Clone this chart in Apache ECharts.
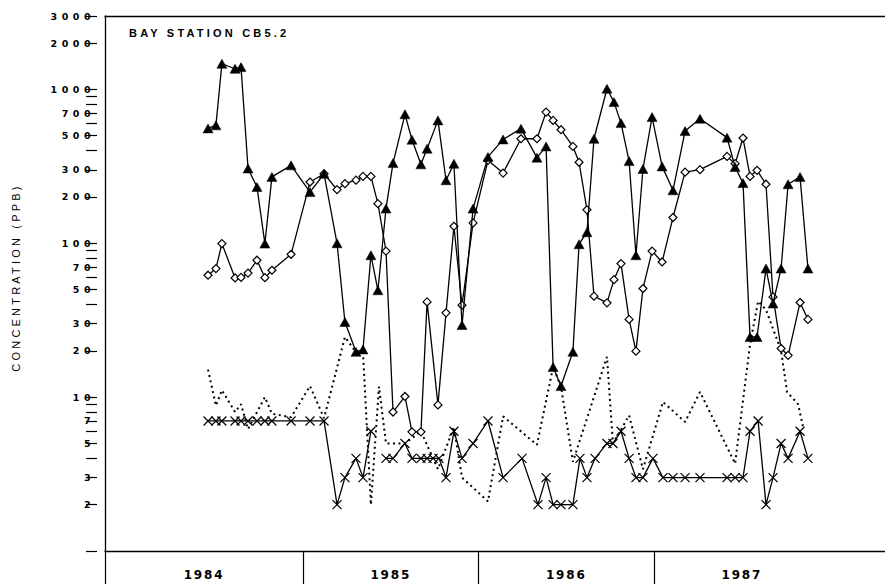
<!DOCTYPE html>
<html>
<head>
<meta charset="utf-8">
<script src="https://cdn.jsdelivr.net/npm/echarts@6/dist/echarts.min.js"></script>
<style>
  html, body { margin: 0; padding: 0; background: #fff; }
  #chart { width: 885px; height: 584px; }
  /* wide, typewriter-like spacing of the printed labels */
  #chart text[style*="DejaVu"], #chart text[font-family*="DejaVu"] { letter-spacing: 4.5px; }
  #chart text[style*="DejaVu"][style*="12px"], #chart text[font-family*="DejaVu"][font-size*="12"] { letter-spacing: 1.8px; }
  #chart text[style*="Liberation"], #chart text[font-family*="Liberation"] { letter-spacing: 3.2px; }
</style>
</head>
<body>
<div id="chart"></div>
<script>
// Sampling dates (decimal years) shared by the triangle and diamond records
const sampleYears = [
  1984.459, 1984.504, 1984.538, 1984.613, 1984.647, 1984.687, 1984.738, 1984.783, 1984.823, 1984.932,
  1985.040, 1985.120, 1985.194, 1985.239, 1985.302, 1985.342, 1985.387, 1985.427, 1985.473, 1985.513,
  1985.581, 1985.621, 1985.672, 1985.707, 1985.769, 1985.815, 1985.860, 1985.906, 1985.969, 1986.054,
  1986.140, 1986.242, 1986.333, 1986.385, 1986.425, 1986.470, 1986.538, 1986.573, 1986.618, 1986.658,
  1986.732, 1986.772, 1986.812, 1986.858, 1986.897, 1986.937, 1986.989, 1987.046, 1987.108, 1987.177,
  1987.262, 1987.416, 1987.462, 1987.507, 1987.547, 1987.587, 1987.638, 1987.678, 1987.724, 1987.764,
  1987.832, 1987.877
];

// Filled triangles (ppb)
const triangleValues = [
  558, 584, 1468, 1362, 1396, 306, 232, 99.5, 270, 321,
  215, 283, 100, 30.8, 19.7, 20.4, 83.6, 49.5, 168, 332,
  689, 471, 326, 412, 629, 257, 329, 29.4, 168, 364,
  473, 556, 360, 426, 15.7, 11.8, 19.7, 98.6, 118, 478,
  1010, 827, 604, 342, 83.6, 304, 661, 316, 221, 536,
  645, 486, 313, 246, 24.6, 24.6, 68.5, 40.6, 68.5, 242,
  270, 68.5
];

// Open diamonds (ppb)
const diamondValues = [
  62, 68.5, 99.5, 59.5, 60, 64, 77.6, 59.8, 66.8, 84.8,
  250, 283, 223, 244, 257, 272, 272, 181, 89, 8.0,
  10.1, 5.95, 5.95, 41.6, 8.9, 35.3, 129, 39.6, 135.6, 346,
  286, 478, 478, 712, 629, 547, 426, 336, 165, 45.3,
  41, 58, 73.8, 32, 19.9, 50.8, 89, 75.6, 147, 290,
  301, 367, 329, 483, 272, 298, 242, 44.8, 20.7, 18.7,
  41.2, 32
];

// Crosses (ppb); null marks a missing sample
const crossYears = [
  1984.459, 1984.504, 1984.538, 1984.613, 1984.647, 1984.687, 1984.738, 1984.783, 1984.823, 1984.932,
  1985.040, 1985.120, 1985.194, 1985.239, 1985.302, 1985.342, 1985.387, 1985.427, 1985.473, 1985.513,
  1985.581, 1985.621, 1985.672, 1985.707, 1985.741, 1985.775, 1985.815, 1985.860, 1985.906, 1985.969,
  1986.054, 1986.140, 1986.248, 1986.339, 1986.385, 1986.425, 1986.470, 1986.538, 1986.578, 1986.618,
  1986.664, 1986.732, 1986.766, 1986.812, 1986.858, 1986.897, 1986.937, 1986.994, 1987.051, 1987.108,
  1987.177, 1987.262, 1987.416, 1987.462, 1987.507, 1987.547, 1987.593, 1987.638, 1987.678, 1987.724,
  1987.764, 1987.832, 1987.877
];
const crossValues = [
  7, 7, 7, 7, 7, 7, 7, 7, 7, 7,
  7, 7, 2, 3, 4, 3, 6, null, 4, 4,
  5, 4, 4, 4, 4, 4, 3, 6, 4, 5,
  7, 3, 4, 2, 3, 2, 2, 2, 4, 3,
  4, 5, 5, 6, 4, 3, 3, 4, 3, 3,
  3, 3, 3, 3, 3, 6, 7, 2, 3, 5,
  4, 6, 4
];

// Dotted record (ppb), no markers
const dottedYears = [
  1984.459, 1984.504, 1984.538, 1984.613, 1984.647, 1984.687, 1984.783, 1984.823, 1984.932, 1985.040,
  1985.120, 1985.239, 1985.296, 1985.342, 1985.387, 1985.433, 1985.473, 1985.581, 1985.672, 1985.769,
  1985.860, 1985.906, 1986.054, 1986.140, 1986.333, 1986.425, 1986.470, 1986.538, 1986.732, 1986.766,
  1986.858, 1986.937, 1987.051, 1987.177, 1987.262, 1987.462, 1987.547, 1987.593, 1987.638, 1987.724,
  1987.758, 1987.821, 1987.849
];
const dottedValues = [
  15.1, 8.8, 11.1, 8.0, 9.0, 6.2, 10.0, 7.8, 7.4, 11.8,
  7.3, 24.6, 20, 19.5, 2.0, 11.7, 5.0, 5.0, 6.0, 3.4,
  6.4, 3.0, 2.1, 7.5, 4.9, 15.7, 11.7, 3.8, 18.3, 5.0,
  7.6, 3.4, 9.3, 6.9, 10.8, 3.7, 22, 42, 37, 20,
  10.8, 9.0, 6.4
];

// Axis furniture
const years = [1984, 1985, 1986, 1987];
const yearBoundaries = [1985, 1986, 1987];
const yLabelValues = [2, 3, 5, 7, 10, 20, 30, 50, 70, 100, 200, 300, 500, 700, 1000, 2000, 3000];
const yMinorTicks = [1, 4, 6, 8, 9, 40, 60, 80, 90, 400, 600, 800, 900];

const xMin = 1983.872;
const xMax = 1988.316;

const pairs = (xs, ys) => xs.map((x, i) => [x, ys[i]]);
const yTickValues = yLabelValues.concat(yMinorTicks).sort((a, b) => a - b);
// each year label sits in the middle of its band; the first band opens at the axis start
const yearLabelPos = years.map((y, i) => ((i === 0 ? xMin : y) + y + 1) / 2);

const INK = '#000';
const valueFont = { fontFamily: 'DejaVu Sans', fontWeight: 'bold', fontSize: 9.5, color: INK };
const yearFont = { fontFamily: 'DejaVu Sans', fontWeight: 'bold', fontSize: 12, color: INK };

const CHART_WIDTH = 885;
const PLOT_LEFT = 105;
const TICK_OUT = 8;   // tick reach to the left of the axis line
const TICK_IN = 3;    // tick reach into the plot

// log axis skeleton shared by the label axis and the tick axis
const logAxis = extra => Object.assign({
  type: 'log',
  logBase: 10,
  position: 'left',
  min: 1,
  max: 3000,
  splitLine: { show: false },
  axisLine: { show: false },
  axisLabel: { show: false },
  axisTick: { show: false }
}, extra);

const chart = echarts.init(document.getElementById('chart'), null, { renderer: 'svg' });

chart.setOption({
  animation: false,
  backgroundColor: '#fff',
  title: {
    text: 'BAY STATION CB5.2',
    left: 129,
    top: 27,
    padding: 0,
    textStyle: { fontFamily: 'Liberation Sans', fontWeight: 'bold', fontSize: 11, color: INK }
  },
  grid: [
    { left: PLOT_LEFT, right: 0, top: 16, bottom: 33, outerBoundsMode: 'none' },
    // narrow strip straddling the y axis line; its right-hand axis draws the tick marks
    { left: PLOT_LEFT - TICK_OUT, right: CHART_WIDTH - PLOT_LEFT - TICK_IN, top: 16, bottom: 33, outerBoundsMode: 'none' }
  ],
  xAxis: [
    {
      type: 'value',
      min: xMin,
      max: xMax,
      axisLine: { show: true, lineStyle: { color: INK, width: 1.3 } },
      splitLine: { show: false },
      axisTick: { show: true, customValues: [xMin].concat(yearBoundaries), length: 33, lineStyle: { color: INK, width: 1.2 } },
      axisLabel: Object.assign({
        customValues: yearLabelPos,
        formatter: v => String(Math.floor(v)),
        margin: 18
      }, yearFont)
    },
    {
      type: 'value',
      position: 'top',
      min: xMin,
      max: xMax,
      axisLine: { show: true, lineStyle: { color: INK, width: 1.3 } },
      axisTick: { show: false },
      axisLabel: { show: false },
      splitLine: { show: false }
    },
    {
      type: 'value',
      gridIndex: 1,
      show: false,
      min: 0,
      max: 1
    }
  ],
  yAxis: [
    logAxis({
      name: 'CONCENTRATION (PPB)',
      nameLocation: 'middle',
      nameRotate: 90,
      nameGap: 84,
      nameTextStyle: { fontFamily: 'Liberation Sans', fontSize: 11, color: INK, padding: [0, 0, 0, 12] },
      axisLine: { show: true, lineStyle: { color: INK, width: 1.3 } },
      axisLabel: Object.assign({ show: true, customValues: yLabelValues, margin: 10, formatter: v => String(v) }, valueFont)
    }),
    // tick marks crossing the y axis line
    logAxis({
      gridIndex: 1,
      position: 'right',
      axisTick: { show: true, customValues: yTickValues, inside: true, length: TICK_OUT + TICK_IN, lineStyle: { color: INK, width: 1.2 } }
    })
  ],
  series: [
    {
      name: 'dotted',
      type: 'line',
      data: pairs(dottedYears, dottedValues),
      symbol: 'none',
      lineStyle: { color: INK, width: 2, type: [2, 3.5], cap: 'butt' },
      z: 2
    },
    {
      name: 'crosses',
      type: 'line',
      data: pairs(crossYears, crossValues),
      symbol: 'path://M0,0L10,10M10,0L0,10',
      symbolSize: 9,
      showAllSymbol: true,
      connectNulls: false,
      itemStyle: { color: 'transparent', borderColor: INK, borderWidth: 1.2 },
      lineStyle: { color: INK, width: 1.3 },
      z: 3
    },
    {
      name: 'diamonds',
      type: 'line',
      data: pairs(sampleYears, diamondValues),
      symbol: 'diamond',
      symbolSize: 8,
      showAllSymbol: true,
      itemStyle: { color: '#fff', borderColor: INK, borderWidth: 1.2 },
      lineStyle: { color: INK, width: 1.3 },
      z: 4
    },
    {
      name: 'triangles',
      type: 'line',
      data: pairs(sampleYears, triangleValues),
      symbol: 'triangle',
      symbolSize: [10, 9],
      showAllSymbol: true,
      itemStyle: { color: INK, borderColor: INK, borderWidth: 0.5 },
      lineStyle: { color: INK, width: 1.3 },
      z: 5
    }
  ]
});
</script>
</body>
</html>
